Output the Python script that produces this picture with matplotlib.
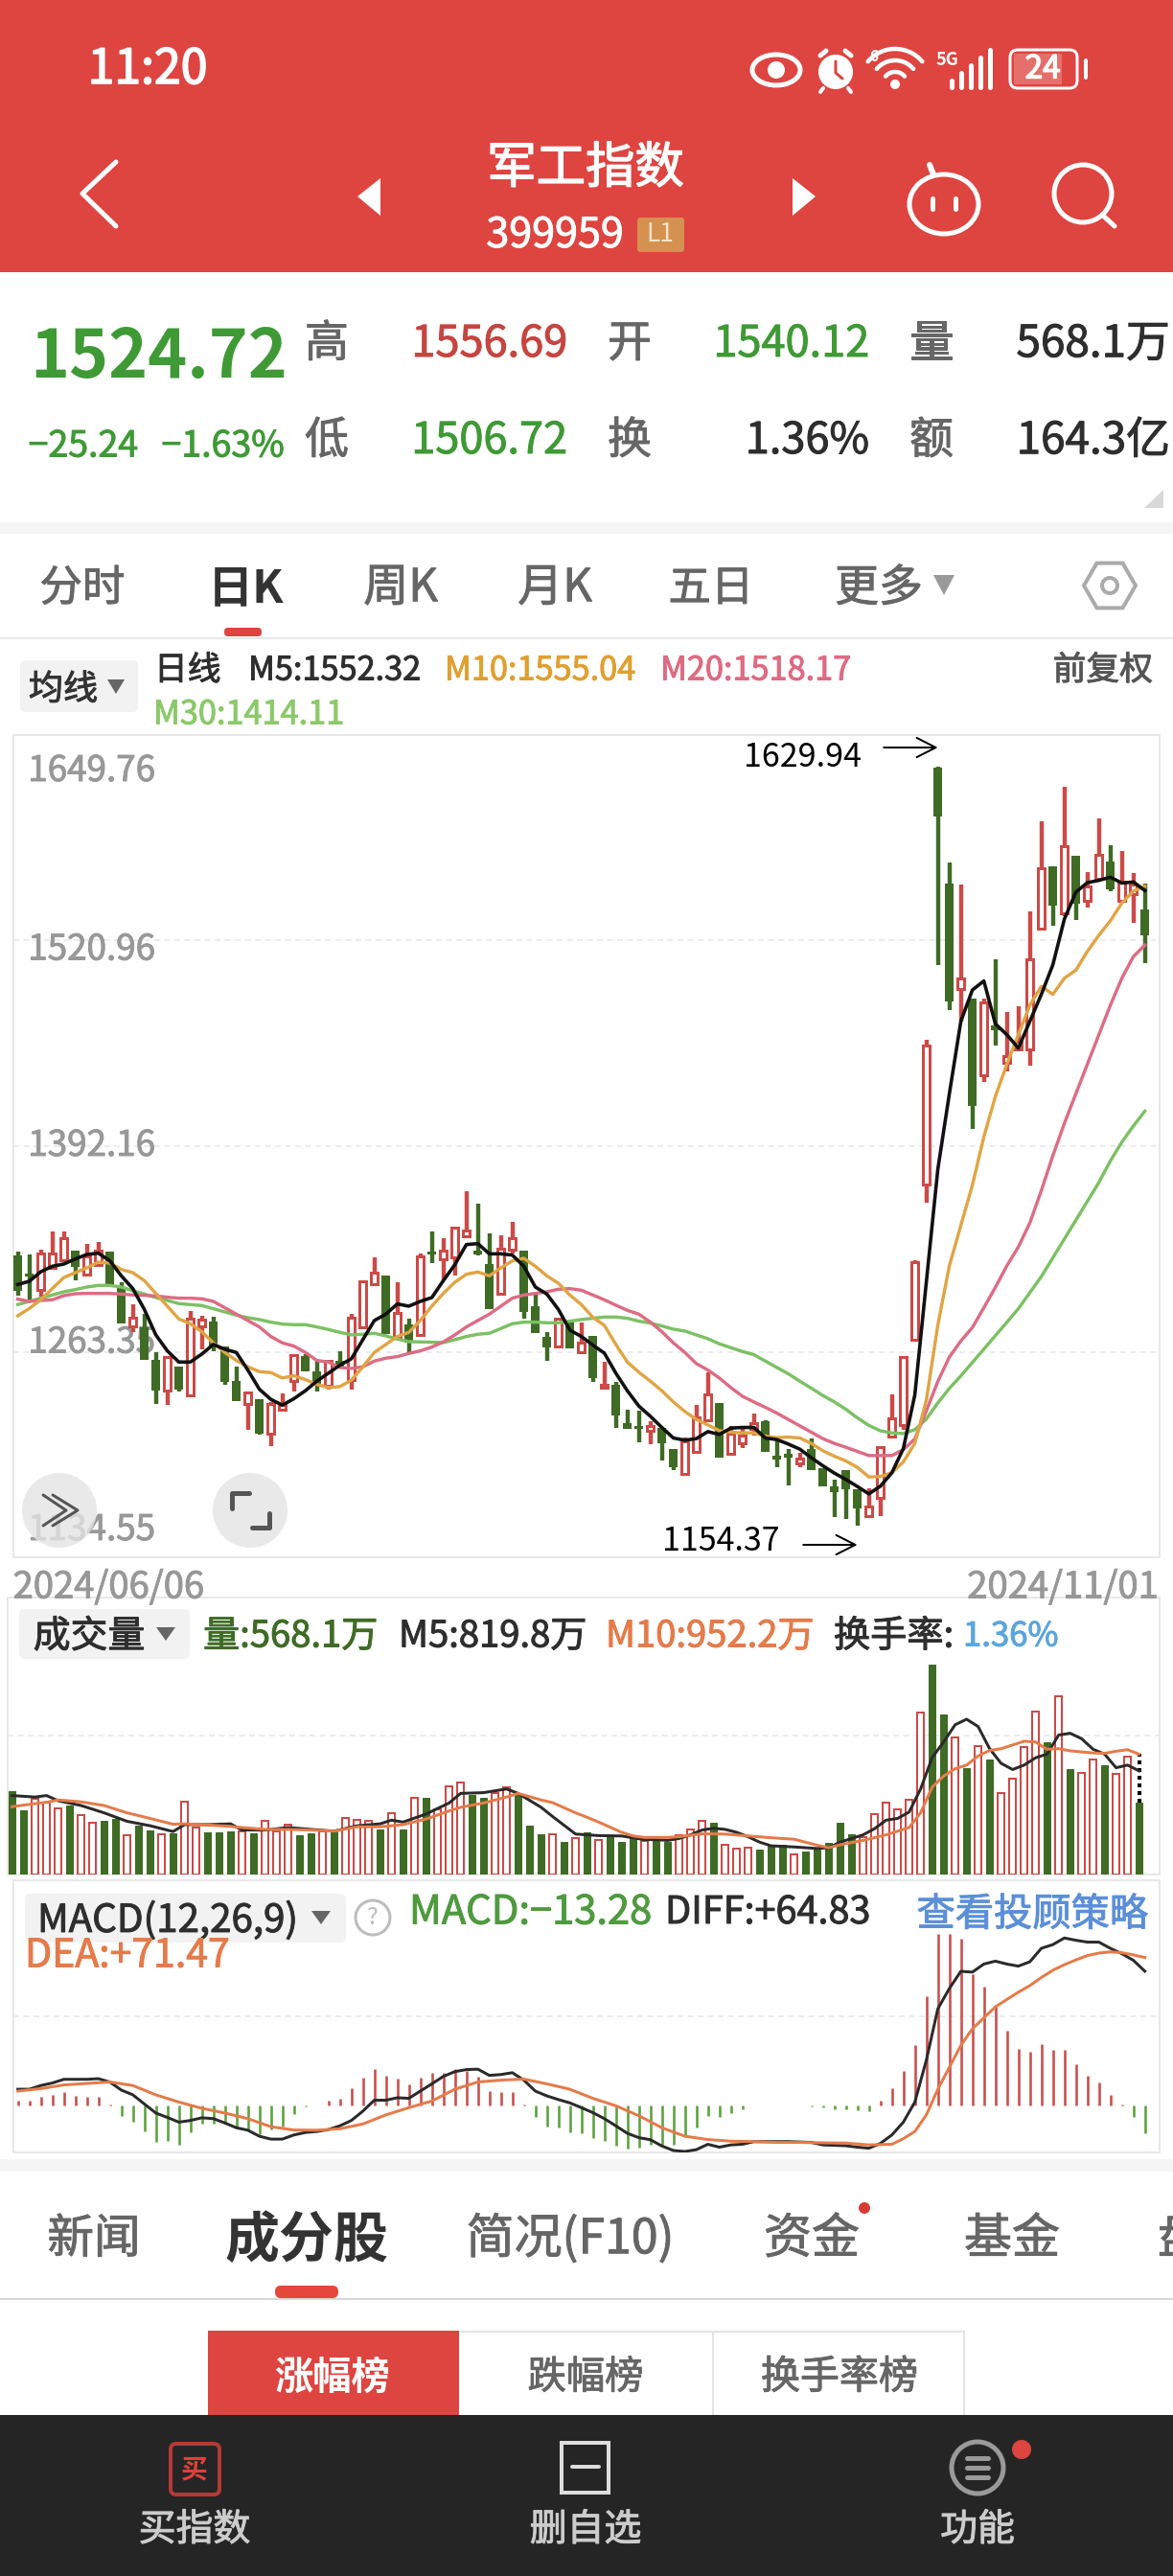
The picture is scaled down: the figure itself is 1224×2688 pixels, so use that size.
import numpy as np
import matplotlib
matplotlib.use("Agg")
import matplotlib.pyplot as plt
import matplotlib.patheffects as pe
from matplotlib.patches import FancyBboxPatch, Rectangle, Polygon, Circle, Ellipse
from matplotlib.transforms import ScaledTranslation

plt.rcParams['font.family'] = ['Noto Sans CJK SC', 'DejaVu Sans']

CANDLE_COLOR = ("GGRRRGRRGG" "RGGRGRRGGG" "RGRRRGGRGR" "RRGRGRGRRR" "GGRRGGGRGR"
                "GRGGGRGGRR" "RGRRRGGGRG" "GGGGRRRRRR" "GGRGRGRRRR" "GRGRRGRRG")
HIGH = [1326.3,1324.5,1327.5,1338.9,1338.9,1326.3,1330.9,1332.3,1326.3,1306.9,
        1293.3,1287.3,1263.3,1260.9,1253.9,1288.9,1285.9,1285.5,1266.9,1254.3,
        1237.9,1232.9,1231.9,1237.5,1261.9,1261.9,1257.9,1257.9,1263.9,1287.3,
        1308.3,1322.7,1310.7,1306.9,1284.3,1324.7,1338.9,1334.5,1341.5,1363.9,
        1356.3,1337.5,1336.3,1344.9,1326.7,1298.9,1275.9,1284.7,1281.5,1281.9,
        1273.3,1257.3,1244.3,1227.3,1226.5,1219.9,1215.5,1202.5,1209.5,1230.3,
        1250.5,1230.9,1216.9,1216.5,1224.9,1220.3,1207.9,1202.5,1200.3,1208.9,
        1190.5,1182.9,1188.9,1176.5,1177.9,1204.4,1236.4,1260.6,1320.6,1458.7,
        1629.94,1569.8,1556.3,1483.9,1484.6,1509.2,1476.2,1479.9,1539.5,1595.7,
        1567.1,1617.6,1573.2,1564.1,1597.8,1580.9,1577.2,1563.0,1556.69]
BODY_TOP = [1322.9,1311.9,1324.9,1324.7,1334.3,1326.3,1322.9,1326.9,1325.5,1302.9,
            1284.5,1277.9,1257.9,1260.3,1253.3,1284.3,1283.5,1281.9,1265.9,1244.5,
            1237.9,1232.9,1230.9,1230.3,1261.3,1259.9,1250.5,1257.5,1256.9,1284.9,
            1307.3,1312.9,1310.7,1287.9,1279.9,1322.9,1325.5,1326.7,1340.9,1339.5,
            1326.3,1317.9,1327.9,1334.5,1326.3,1291.3,1272.3,1283.9,1281.5,1268.9,
            1272.9,1242.9,1242.3,1218.3,1216.5,1216.9,1214.9,1201.9,1207.5,1222.3,
            1236.9,1230.9,1211.9,1210.9,1218.9,1219.5,1197.9,1198.9,1196.3,1201.9,
            1189.9,1178.5,1188.5,1176.3,1166.5,1203.7,1221.9,1259.9,1319.6,1455.3,
            1629.0,1556.3,1497.4,1483.9,1482.2,1467.1,1448.6,1457.6,1509.2,1566.4,
            1567.1,1579.9,1573.2,1554.6,1574.9,1569.8,1558.0,1556.0,1540.12]
BODY_BOT = [1301.9,1311.3,1301.9,1315.9,1320.9,1316.9,1311.9,1317.9,1305.9,1281.5,
            1279.5,1258.9,1239.5,1238.9,1240.5,1235.9,1279.5,1266.9,1244.9,1233.3,
            1230.5,1212.9,1211.9,1226.9,1244.9,1251.9,1243.9,1241.9,1253.9,1245.5,
            1278.5,1305.9,1275.3,1272.9,1269.9,1273.9,1324.7,1321.5,1322.3,1335.9,
            1324.7,1290.5,1299.5,1327.5,1288.9,1275.9,1266.5,1266.5,1265.9,1263.3,
            1247.5,1240.9,1223.9,1215.9,1215.7,1213.9,1206.5,1191.5,1186.9,1200.9,
            1220.5,1197.9,1199.5,1205.9,1214.9,1201.3,1196.5,1197.9,1193.5,1189.9,
            1179.5,1175.9,1177.9,1165.5,1160.3,1171.7,1210.4,1217.2,1271.1,1368.4,
            1599.1,1483.2,1490.7,1418.2,1436.8,1465.4,1444.5,1452.9,1452.9,1528.7,
            1543.5,1537.8,1544.4,1545.6,1559.7,1553.6,1545.6,1550.0,1524.72]
LOW = [1298.3,1295.9,1297.5,1314.9,1319.5,1308.3,1311.5,1316.9,1305.5,1281.5,
       1275.5,1258.9,1230.5,1229.9,1238.3,1235.9,1264.9,1263.9,1242.5,1232.5,
       1214.3,1211.3,1204.5,1226.5,1238.3,1250.9,1238.3,1239.5,1252.9,1239.9,
       1277.9,1305.5,1275.3,1271.9,1263.3,1273.5,1318.7,1307.9,1310.9,1335.5,
       1323.5,1290.5,1298.5,1324.9,1283.9,1275.5,1257.9,1266.5,1265.9,1261.9,
       1244.3,1240.7,1215.9,1214.9,1206.5,1205.3,1195.3,1189.3,1186.5,1200.3,
       1219.9,1197.9,1199.1,1202.9,1210.9,1200.9,1190.9,1179.5,1190.9,1189.5,
       1178.9,1159.5,1158.5,1154.37,1159.9,1160.6,1210.1,1214.5,1271.1,1356.9,
       1505.8,1477.2,1470.4,1403.1,1432.4,1455.3,1439.1,1451.9,1442.5,1527.7,
       1530.1,1536.1,1533.8,1541.6,1558.0,1552.0,1544.5,1532.0,1506.72]
MA5 = [1305.5,1307.5,1313.5,1316.9,1318.3,1321.5,1324.3,1325.1,1320.3,1310.9,
       1302.9,1289.9,1273.9,1263.9,1256.9,1256.9,1261.9,1267.9,1264.9,1262.9,
       1251.9,1239.9,1233.5,1229.9,1233.9,1238.9,1244.9,1249.9,1254.9,1258.9,
       1270.9,1282.9,1286.9,1293.3,1291.9,1294.9,1297.3,1307.9,1317.9,1330.5,
       1331.1,1324.7,1324.7,1323.9,1316.9,1303.9,1299.5,1289.9,1276.9,1272.9,
       1267.5,1262.5,1249.9,1238.9,1229.3,1222.9,1215.9,1209.3,1207.9,1208.9,
       1213.3,1211.5,1215.5,1215.9,1215.9,1209.3,1208.3,1205.5,1202.3,1196.9,
       1191.9,1187.3,1183.3,1178.9,1174.3,1179.1,1187.5,1202.7,1236.4,1307.1,
       1377.8,1425.0,1470.4,1490.0,1495.7,1468.8,1462.0,1453.6,1470.4,1487.3,
       1505.8,1534.4,1551.3,1557.3,1558.7,1560.7,1557.0,1557.7,1552.32]
MA10 = [1285.9,1290.5,1295.9,1302.9,1309.9,1312.9,1315.9,1319.5,1318.9,1314.9,
        1312.9,1307.9,1299.9,1291.9,1283.9,1280.9,1275.9,1268.9,1262.9,1257.9,
        1253.9,1250.9,1250.3,1246.9,1248.3,1245.9,1242.9,1240.9,1241.5,1245.5,
        1253.9,1262.9,1267.9,1272.9,1275.5,1282.9,1291.9,1299.9,1306.9,1311.9,
        1313.3,1310.9,1315.9,1320.3,1321.9,1316.9,1310.9,1306.3,1298.9,1292.9,
        1284.9,1279.9,1267.9,1256.9,1250.5,1244.9,1238.9,1231.9,1225.9,1220.9,
        1217.5,1213.9,1212.9,1212.5,1212.5,1210.5,1209.5,1209.9,1209.3,1205.9,
        1201.3,1197.9,1194.9,1190.9,1184.9,1185.2,1187.5,1194.3,1206.0,1233.0,
        1280.1,1317.2,1342.5,1367.7,1398.0,1423.3,1443.5,1462.0,1480.5,1492.3,
        1487.3,1497.4,1502.4,1514.2,1524.3,1533.4,1544.5,1552.0,1555.04]
MA20 = [1296.3,1294.9,1295.5,1295.9,1298.5,1299.7,1299.9,1299.9,1299.9,1299.5,
        1298.9,1298.7,1298.3,1297.5,1296.9,1296.9,1296.5,1294.9,1290.9,1286.9,
        1282.9,1278.9,1272.9,1268.9,1266.9,1262.9,1257.9,1256.9,1253.5,1252.9,
        1253.9,1257.5,1259.3,1260.3,1262.3,1263.9,1266.3,1269.5,1273.9,1278.9,
        1282.9,1286.9,1291.9,1296.9,1298.9,1299.9,1300.9,1302.5,1302.9,1301.9,
        1298.9,1295.9,1292.5,1289.3,1286.9,1281.9,1275.9,1268.9,1262.9,1255.9,
        1251.9,1246.9,1240.9,1235.5,1231.9,1228.5,1224.9,1220.9,1216.9,1212.9,
        1208.9,1205.9,1203.5,1200.9,1198.3,1198.3,1198.3,1202.0,1208.8,1226.3,
        1244.8,1260.0,1270.1,1278.5,1290.9,1303.7,1317.2,1329.0,1344.1,1364.4,
        1386.2,1406.4,1425.0,1443.5,1462.0,1480.5,1497.4,1510.9,1518.17]
MA30 = [1292.9,1294.9,1296.9,1298.9,1300.9,1302.3,1303.9,1304.9,1304.9,1303.9,
        1301.5,1299.5,1297.3,1295.5,1293.5,1292.9,1292.3,1290.3,1288.3,1286.3,
        1284.7,1283.5,1281.9,1280.7,1280.3,1280.3,1278.9,1277.3,1275.5,1273.9,
        1274.3,1274.9,1273.3,1271.3,1269.7,1269.5,1269.3,1269.1,1270.9,1272.9,
        1274.3,1274.9,1277.9,1280.9,1281.9,1281.9,1281.5,1281.5,1282.5,1283.5,
        1284.3,1285.1,1285.1,1284.3,1282.5,1281.3,1279.5,1277.5,1276.3,1273.9,
        1271.5,1268.3,1265.9,1263.5,1261.5,1257.5,1253.5,1249.5,1244.9,1240.5,
        1235.9,1231.9,1227.3,1221.9,1217.2,1213.8,1212.5,1212.1,1214.5,1221.2,
        1231.3,1240.4,1248.2,1256.6,1265.0,1273.4,1281.8,1290.3,1300.4,1310.5,
        1322.2,1334.0,1345.8,1357.6,1369.4,1382.9,1394.7,1404.8,1414.11]
PRICE_TICKS = [1649.76, 1520.96, 1392.16, 1263.35, 1134.55]
PRICE_LABELS = ["1649.76", "1520.96", "1392.16", "1263.35", "1134.55"]
DATE_LABELS = ["2024/06/06", "2024/11/01"]

VOLUME = [662,511,596,566,523,546,468,407,421,439,314,386,352,322,328,575,372,331,331,340,
          343,328,421,343,392,308,325,343,334,444,433,421,357,482,360,604,604,517,697,726,
          633,604,648,691,633,386,322,320,256,291,337,276,299,256,293,264,276,256,308,357,
          421,410,235,206,212,195,227,235,160,183,198,247,410,322,293,479,566,514,590,1281,
          1665,1264,1084,845,1017,909,642,758,1011,1287,1046,1409,834,805,909,863,799,933,568.1]
VOL_M5_IDX = [0,2,3,4,6,8,10,12,14,15,17,19,20,22,24,26,28,30,32,33,34,36,38,39,41,43,44,46,47,49,50,
              51,53,55,56,57,58,59,60,61,62,63,64,65,66,68,70,71,72,74,75,76,77,78,79,80,81,82,83,84,
              85,86,87,88,89,90,91,92,93,94,95,96,97,98]
VOL_M5 = [625,613,625,584,546,488,421,386,340,395,395,401,352,352,372,357,343,386,401,430,415,479,566,642,648,677,642,532,459,320,314,
          308,305,276,276,270,285,314,352,366,357,334,299,256,227,218,206,212,256,314,363,430,444,494,677,924,1049,1185,1229,1171,
          996,880,831,866,924,953,1104,1118,1075,991,953,845,866,819.8]
VOL_M10_IDX = [0,2,3,4,6,8,10,12,14,15,17,19,20,22,24,26,28,30,32,33,34,36,38,39,41,43,44,46,47,49,50,
               51,53,54,55,57,58,60,62,64,66,68,70,71,72,74,76,78,79,80,81,82,83,84,85,86,87,88,89,90,
               91,92,94,95,96,97,98]
VOL_M10 = [537,561,572,590,575,546,488,444,398,401,392,381,372,357,357,352,343,378,378,386,395,439,503,532,566,613,642,590,569,488,453,
           415,334,305,293,293,299,322,320,305,291,279,232,212,235,270,314,372,488,691,779,837,866,938,982,996,1025,1055,1049,991,
           996,979,962,959,976,988,952.2]

MACD_HIST = [2.5,2.5,4.2,5.1,6.5,4.8,4.1,3.9,0.2,-5.0,-7.8,-12.7,-17.5,-17.0,-18.8,-13.1,-9.0,-9.0,-9.0,-10.8,
             -11.7,-13.8,-11.7,-10.3,-4.2,-0.7,-0.2,2.1,3.2,8.1,13.5,17.5,14.3,13.1,10.1,13.6,15.8,15.8,17.5,16.6,
             14.0,6.9,6.4,6.4,0.2,-5.7,-10.3,-10.8,-13.1,-13.5,-15.6,-17.0,-19.6,-20.9,-20.5,-18.8,-18.8,-18.8,-15.2,-10.8,
             -5.0,-5.7,-3.7,-1.9,-0.2,-0.2,-0.2,-0.2,-0.2,-0.4,-1.1,-1.8,-1.8,-2.5,-2.8,2.5,8.3,16.6,29.0,52.6,
             82.8,82.8,80.4,63.5,57.3,47.6,36.1,27.3,25.8,29.6,26.9,26.9,19.8,14.5,11.3,5.0,0.2,-5.5,-13.28]
DIFF = [7.8,7.8,9.6,10.8,12.6,12.6,12.6,12.9,11.3,7.4,5.1,0.7,-3.7,-5.8,-8.1,-7.3,-6.0,-6.4,-8.5,-10.8,
        -12.0,-14.9,-16.3,-16.3,-14.3,-13.1,-12.6,-11.7,-9.9,-7.3,-2.8,2.5,2.5,3.7,3.4,6.9,10.4,14.0,16.3,17.3,
        17.5,14.5,14.9,15.8,12.2,6.9,4.6,2.8,1.2,-1.1,-3.5,-6.4,-9.9,-13.5,-15.6,-16.6,-19.6,-21.8,-22.3,-21.4,
        -18.8,-20.2,-19.1,-18.8,-17.5,-17.5,-17.5,-17.5,-17.7,-17.9,-19.1,-19.3,-19.5,-20.2,-20.7,-18.4,-14.3,-8.1,1.6,21.9,
        46.7,56.5,64.8,64.4,68.3,69.7,68.3,67.3,69.4,75.9,77.7,80.9,79.8,78.9,78.9,75.9,73.3,70.1,64.83]
DEA_IDX = [0,2,4,6,8,10,12,14,16,18,20,22,24,26,28,30,32,34,36,38,40,42,44,46,48,50,52,54,56,58,60,62,64,66,68,70,72,74,76,
           77,78,79,80,81,82,83,84,85,86,87,88,89,90,91,92,93,94,95,96,97,98]
DEA = [6.9,8.1,9.9,10.6,11.3,9.6,5.1,1.6,-1.4,-3.7,-6.4,-10.3,-11.9,-12.0,-11.3,-9.0,-4.6,-1.1,2.1,7.8,11.3,12.2,12.7,10.4,7.8,3.4,
       -0.2,-5.0,-10.8,-14.9,-16.5,-17.3,-17.5,-17.9,-17.9,-18.1,-18.2,-19.1,-18.8,-16.1,-12.6,-4.6,7.8,18.4,29.0,37.0,42.3,47.6,51.2,
       54.7,57.9,61.8,65.3,68.0,70.3,72.4,73.6,74.2,73.8,72.7,71.47]

RED = '#CC4A47'; DGREEN = '#3F6B25'; GRID = '#E6E6E6'; BORDER = '#E8E8E8'
HDR = '#DE4440'; ORANGE = '#E57B4A'; TXT = '#2E2E2E'; GREY = '#666666'
W, H = 1224, 2688
px = 72 / 100  # points per pixel

fig = plt.figure(figsize=(W / 100, H / 100), dpi=100, facecolor='white')

def panel(x0, y0, x1, y1, z=2):
    return fig.add_axes([x0 / W, 1 - y1 / H, (x1 - x0) / W, (y1 - y0) / H], zorder=z)

def style(ax):
    for s in ax.spines.values():
        s.set_color(BORDER); s.set_linewidth(2 * px)
    ax.grid(True, axis='y', color=GRID, ls=(0, (4, 3)), lw=1.5 * px)
    ax.set_axisbelow(True)
    ax.tick_params(length=0)

n = len(HIGH)
xs = np.arange(n)
up = np.array([c == 'R' for c in CANDLE_COLOR])
high, low, btop, bbot = map(np.array, (HIGH, LOW, BODY_TOP, BODY_BOT))

# ---------------- price panel
ax = panel(14, 767, 1210, 1625, z=3)
style(ax)
ax.set_xlim(-0.383, 99.28)
ax.set_ylim(1134.55, 1649.76)
ax.set_yticks(PRICE_TICKS, labels=PRICE_LABELS)
ax.tick_params(axis='y', direction='in', pad=-11, labelsize=26.5, labelcolor='#989898')
heavy = [pe.withStroke(linewidth=0.7, foreground='#989898')]
for lab, dy in zip(ax.get_yticklabels(), [-33, -5, 5, 14, 33]):
    lab.set_ha('left')
    lab.set_path_effects(heavy)
    lab.set_transform(lab.get_transform() + ScaledTranslation(0, dy / 100, fig.dpi_scale_trans))
ax.set_xticks([0, 98], labels=DATE_LABELS)
ax.tick_params(axis='x', pad=9, labelsize=27.5, labelcolor='#989898')
xl = ax.get_xticklabels()
xl[0].set_ha('left'); xl[1].set_ha('right')
xl[0].set_path_effects(heavy); xl[1].set_path_effects(heavy)
xl[0].set_transform(xl[0].get_transform() + ScaledTranslation(-5 / 100, 0, fig.dpi_scale_trans))
xl[1].set_transform(xl[1].get_transform() + ScaledTranslation(14 / 100, 0, fig.dpi_scale_trans))
ax.vlines(xs[up], low[up], high[up], color=RED, lw=4.4 * px, zorder=3)
ax.vlines(xs[~up], low[~up], high[~up], color=DGREEN, lw=4.4 * px, zorder=3)
ax.bar(xs[up], btop[up] - bbot[up], bottom=bbot[up], width=0.62, facecolor='white', edgecolor=RED, lw=3 * px, zorder=4)
ax.bar(xs[~up], btop[~up] - bbot[~up], bottom=bbot[~up], width=0.62, facecolor=DGREEN, edgecolor=DGREEN, lw=2 * px, zorder=4)
ax.plot(xs, MA30, color='#7CC164', lw=3.4 * px, zorder=5)
ax.plot(xs, MA20, color='#DD6C85', lw=3.4 * px, zorder=5)
ax.plot(xs, MA10, color='#E0A545', lw=3.4 * px, zorder=6)
ax.plot(xs, MA5, color='#111111', lw=3.6 * px, zorder=7)
ipk = int(np.argmax(high)); imn = int(np.argmin(low))
ARROW = dict(arrowstyle='->,head_length=0.55,head_width=0.28', color='black', lw=2 * px, mutation_scale=26, shrinkA=0, shrinkB=0)
peak_y = high[ipk] + 12
ax.annotate('', xy=(ipk, peak_y), xytext=(ipk - 4.7, peak_y), arrowprops=ARROW)
ax.annotate(f'{high[ipk]:.2f}', xy=(ipk, high[ipk]), xytext=(-80, 10), textcoords='offset pixels',
            ha='right', va='center', fontsize=24.5, color='black')
trough_y = low[imn] - 12
ax.annotate('', xy=(imn, trough_y), xytext=(imn - 4.7, trough_y), arrowprops=ARROW, annotation_clip=False)
ax.annotate(f'{low[imn]:.2f}', xy=(imn, low[imn]), xytext=(-81, -17), textcoords='offset pixels',
            ha='right', va='center', fontsize=24.5, color='black')

# ---------------- volume panel
av = panel(8, 1666.5, 1210, 1956)
style(av)
av.set_xlim(-0.383, 99.78)
av.set_ylim(0, 2196)
av.set_yticks([1098], labels=[''])
av.set_xticks([])
vol = np.array(VOLUME, float)
av.bar(xs[up], vol[up], width=0.6, facecolor='white', edgecolor=RED, lw=2 * px, zorder=3)
av.bar(xs[~up], vol[~up], width=0.62, facecolor=DGREEN, edgecolor=DGREEN, lw=1 * px, zorder=3)
av.vlines(xs[-1], VOLUME[-1], VOL_M10[-1], colors='black', linestyles=(0, (1, 1)), lw=4 * px, zorder=4)
av.plot(VOL_M5_IDX, VOL_M5, color='#2A2A2A', lw=3 * px, zorder=5)
av.plot(VOL_M10_IDX, VOL_M10, color=ORANGE, lw=3 * px, zorder=6)

# ---------------- MACD panel
am = panel(14, 1962, 1210, 2245.5)
style(am)
am.set_xlim(-0.383, 99.28)
am.set_ylim(-22.5, 108.8)
am.set_yticks([43.15], labels=[''])
am.set_xticks([])
hist = np.array(MACD_HIST)
am.vlines(xs[hist > 0], 0, hist[hist > 0], color='#C8504F', lw=2.6 * px, zorder=3)
am.vlines(xs[hist <= 0], 0, hist[hist <= 0], color='#5EA23F', lw=2.6 * px, zorder=3)
am.plot(xs, DIFF, color='#2A2A2A', lw=3 * px, zorder=5)
am.plot(DEA_IDX, DEA, color=ORANGE, lw=3 * px, zorder=6)

# ---------------- app chrome overlay
ui = fig.add_axes([0, 0, 1, 1], zorder=5)
ui.set_xlim(0, W); ui.set_ylim(H, 0); ui.axis('off'); ui.patch.set_alpha(0)

def T(x, y, s, size, color=TXT, ha='center', va='center', weight='normal', stroke=0.7, **k):
    t = ui.text(x, y + 3, s, fontsize=size, color=color, ha=ha, va=va, fontweight=weight, **k)
    if weight == 'normal' and stroke:
        t.set_path_effects([pe.withStroke(linewidth=stroke, foreground=color)])
    return t

def R(x0, y0, x1, y1, color, z=1, round_=0, **k):
    if round_:
        p = FancyBboxPatch((x0 + round_, y0 + round_), x1 - x0 - 2 * round_, y1 - y0 - 2 * round_,
                           boxstyle=f'round,pad={round_}', facecolor=color, edgecolor='none', zorder=z, **k)
    else:
        p = Rectangle((x0, y0), x1 - x0, y1 - y0, facecolor=color, edgecolor='none', zorder=z, **k)
    ui.add_patch(p); return p

def L(pts, color='white', lw=4, z=3, **k):
    p = np.array(pts)
    ui.plot(p[:, 0], p[:, 1], color=color, lw=lw * px, zorder=z, solid_capstyle='round', **k)

def Tri(pts, color, z=3):
    ui.add_patch(Polygon(pts, closed=True, facecolor=color, edgecolor='none', zorder=z))

def arc(cx, cy, r, a0, a1, **k):
    t = np.radians(np.linspace(a0, a1, 30))
    L(np.c_[cx + r * np.cos(t), cy + r * np.sin(t)], **k)

# header
R(0, 0, W, 284, HDR)
T(154, 70, '11:20', 36, 'white', stroke=1.2)
T(611, 173, '军工指数', 37, 'white', stroke=1.0)
T(579, 243, '399959', 31, 'white')
R(665, 227, 714, 263, '#D4914F', round_=3)
T(689, 242, 'L1', 19, '#F7E3C8', stroke=0)
L([(121, 169), (86, 202), (121, 236)], lw=5)
Tri([(397, 186), (373, 205), (397, 225)], 'white')
Tri([(827, 186), (851, 205), (827, 225)], 'white')
# robot
ui.add_patch(Ellipse((985, 213), 72, 62, fc='none', ec='white', lw=5 * px, zorder=3))
L([(974, 182), (970, 172)], lw=6)
L([(973, 207), (973, 218)], lw=5); L([(997, 207), (997, 218)], lw=5)
# search
ui.add_patch(Circle((1130, 202), 30, fc='none', ec='white', lw=5 * px, zorder=3))
L([(1150, 224), (1163, 236)], lw=5)
# status bar
ui.add_patch(Ellipse((810, 73), 50, 32, fc='none', ec='white', lw=5 * px, zorder=3))
ui.add_patch(Circle((810, 73), 9, fc='white', ec='none', zorder=3))
ui.add_patch(Circle((872, 75), 18, fc='white', ec='none', zorder=3))
L([(872, 64), (872, 76), (879, 82)], color=HDR, lw=3)
L([(856, 58), (862, 53)], lw=5); L([(882, 53), (888, 58)], lw=5)
L([(859, 92), (856, 96)], lw=4); L([(885, 92), (888, 96)], lw=4)
T(912, 56, '6', 11, 'white', weight='bold')
for r_ in (13, 25, 37):
    arc(934, 88, r_, 220, 320, lw=4.5)
ui.add_patch(Circle((934, 88), 5, fc='white', ec='none', zorder=3))
T(988, 59, '5G', 13, 'white', weight='bold')
for k_, bx in enumerate((993, 1003, 1013, 1023, 1033)):
    L([(bx, 91), (bx, 84 - k_ * 8)], lw=5)
ui.add_patch(FancyBboxPatch((1058, 56), 62, 32, boxstyle='round,pad=4,rounding_size=8', fc='none', ec='white', lw=3 * px, zorder=3))
R(1058, 56, 1108, 88, '#EE8C88', z=2, alpha=0.6)
T(1088, 69, '24', 24, 'white', stroke=1.0)
L([(1133, 63), (1133, 81)], lw=4)

# quote block
QG = '#3F9A36'
T(300, 371, '1524.72', 50, QG, ha='right', weight='bold')
T(144, 463, '−25.24', 27, QG, ha='right')
T(297, 463, '−1.63%', 27, QG, ha='right')
for x_, y_, s_ in [(341, 356, '高'), (341, 457, '低'), (657, 356, '开'), (657, 457, '换'), (972, 356, '量'), (972, 457, '额')]:
    T(x_, y_, s_, 33, GREY)
T(592, 356, '1556.69', 32.5, '#C64540', ha='right')
T(907, 356, '1540.12', 32.5, QG, ha='right')
T(1221, 356, '568.1万', 33, TXT, ha='right')
T(592, 457, '1506.72', 32.5, QG, ha='right')
T(907, 457, '1.36%', 32.5, TXT, ha='right')
T(1221, 457, '164.3亿', 33, TXT, ha='right')
Tri([(1214, 511), (1214, 530), (1194, 530)], '#D8D8D8')
R(0, 545, W, 557, '#F5F5F5')

# period tabs
T(86, 611, '分时', 32, GREY)
T(257, 611, '日K', 34, '#333333', weight='bold')
T(418, 611, '周K', 34, GREY)
T(579, 611, '月K', 34, GREY)
T(742, 611, '五日', 32, GREY)
T(917, 611, '更多', 33, GREY)
Tri([(974, 600), (996, 600), (985, 621)], '#999999')
t6 = np.radians(np.arange(0, 360, 60))
ui.add_patch(Polygon(np.c_[1158 + 27 * np.cos(t6), 611 + 27 * np.sin(t6)], closed=True, fc='none', ec='#AAAAAA', lw=4 * px, zorder=3))
ui.add_patch(Circle((1158, 611), 8, fc='none', ec='#AAAAAA', lw=4 * px, zorder=3))
R(234, 655, 273, 664, '#DE4440', round_=4)
R(0, 665, W, 667, '#E8E8E8')

# MA legend
R(21, 689, 144, 743, '#F2F2F2', round_=6)
T(66, 717, '均线', 26, '#333333')
Tri([(112, 709), (130, 709), (121, 724)], '#666666')
T(161, 697, '日线', 25, TXT, ha='left')
T(259, 697, 'M5:1552.32', 24.7, TXT, ha='left')
T(464, 697, 'M10:1555.04', 24.7, '#E0A030', ha='left')
T(689, 697, 'M20:1518.17', 24.7, '#DD6B82', ha='left')
T(1203, 697, '前复权', 25, '#555555', ha='right')
T(160, 743, 'M30:1414.11', 24.7, '#8CC96A', ha='left')

# floating buttons
for cx in (62, 261):
    ui.add_patch(Circle((cx, 1576), 39, fc='#E4E4E4', ec='none', alpha=0.8, zorder=3))
L([(45, 1560), (69, 1576), (45, 1592)], color='#555555', lw=3, z=4)
L([(55, 1560), (81, 1576), (55, 1592)], color='#555555', lw=3, z=4)
L([(242, 1574), (242, 1558), (260, 1558)], color='#555555', lw=5, z=4)
L([(263, 1594), (281, 1594), (281, 1579)], color='#555555', lw=5, z=4)

# volume header
R(20, 1679, 198, 1731, '#F2F2F2', round_=6)
T(93, 1705, '成交量', 28, TXT)
Tri([(163, 1698), (183, 1698), (173, 1712)], '#666666')
T(212, 1705, '量:568.1万', 27.5, DGREEN, ha='left')
T(416, 1705, 'M5:819.8万', 27.5, TXT, ha='left')
T(632, 1705, 'M10:952.2万', 27.5, ORANGE, ha='left')
T(870, 1705, '换手率:', 27.5, TXT, ha='left')
T(1005, 1705, '1.36%', 25, '#5AA5DE', ha='left')

# MACD header
R(26, 1976, 361, 2027, '#F2F2F2', round_=6)
T(39, 2001, 'MACD(12,26,9)', 29, TXT, ha='left')
Tri([(325, 1994), (345, 1994), (335, 2008)], '#666666')
ui.add_patch(Circle((389, 2001), 18, fc='none', ec='#BDBDBD', lw=3 * px, zorder=3))
T(389, 1998, '?', 18, '#BDBDBD', stroke=0)
T(427, 1993, 'MACD:−13.28', 30, '#4F9A3F', ha='left')
T(694, 1993, 'DIFF:+64.83', 28.5, TXT, ha='left')
T(1198, 1995, '查看投顾策略', 29, '#5B8FD8', ha='right')
T(26, 2038, 'DEA:+71.47', 29.5, ORANGE, ha='left')

# lower tabs
R(0, 2253, W, 2266, '#F5F5F5')
T(98, 2334, '新闻', 35, GREY)
T(320, 2335, '成分股', 41, '#333333', weight='bold')
T(595, 2334, '简况(F10)', 36, GREY)
T(847, 2334, '资金', 36, GREY)
T(1056, 2334, '基金', 36, GREY)
T(1208, 2334, '盘', 36, GREY, ha='left')
ui.add_patch(Circle((902, 2304), 6, fc='#D93A34', ec='none', zorder=3))
R(287, 2385, 353, 2398, '#E5473C', round_=6)
R(0, 2398, W, 2400, '#D8D8D8')

# sub tabs
R(217, 2432, 1007, 2520, '#E4E4E4', z=1)
R(219, 2434, 1005, 2520, 'white', z=1)
R(217, 2432, 479, 2520, '#DE4440', z=2)
R(743, 2434, 745, 2520, '#E4E4E4', z=2)
T(347, 2478, '涨幅榜', 29, 'white', weight='bold')
T(611, 2478, '跌幅榜', 29, GREY)
T(876, 2478, '换手率榜', 29.5, GREY)

# bottom navigation
R(0, 2520, W, H, '#252525', z=2)
ui.add_patch(FancyBboxPatch((181, 2553), 45, 47, boxstyle='round,pad=3,rounding_size=6', fc='none', ec='#B53A36', lw=4 * px, zorder=3))
T(203, 2574, '买', 20, '#E0403A', weight='bold', zorder=3)
ui.add_patch(Rectangle((586, 2549), 49, 52, fc='none', ec='#DDDDDD', lw=4 * px, zorder=3))
L([(597, 2574), (625, 2574)], color='#DDDDDD', lw=4)
ui.add_patch(Circle((1020, 2575), 27, fc='none', ec='#9A9A9A', lw=5 * px, zorder=3))
for y_ in (2565, 2575, 2585):
    L([(1009, y_), (1031, y_)], color='#9A9A9A', lw=5)
ui.add_patch(Circle((1066, 2556), 10, fc='#DE4440', ec='none', zorder=3))
T(203, 2637, '买指数', 28, '#CCCCCC', zorder=3)
T(611, 2637, '删自选', 28, '#CCCCCC', zorder=3)
T(1020, 2637, '功能', 28, '#CCCCCC', zorder=3)

fig.savefig('out.png', dpi=100, facecolor='white')
